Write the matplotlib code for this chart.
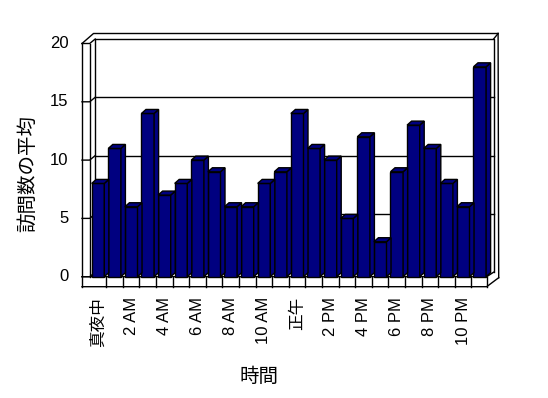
import matplotlib
matplotlib.use('Agg')
from matplotlib import pyplot as plt
from matplotlib.patches import Polygon
import numpy as np

plt.rcParams['font.family'] = ['Liberation Sans', 'Noto Sans CJK JP']

# data
hours = np.arange(24)
visits = [8, 11, 6, 14, 7, 8, 10, 9, 6, 6, 8, 9,
          14, 11, 10, 5, 12, 3, 9, 13, 11, 8, 6, 18]
tick_pos = np.arange(0, 24, 2)
tick_labels = ['真夜中', '2 AM', '4 AM', '6 AM', '8 AM', '10 AM',
               '正午', '2 PM', '4 PM', '6 PM', '8 PM', '10 PM']
y_ticks = [0, 5, 10, 15, 20]

W, H = 548, 398
fig = plt.figure(figsize=(W / 100, H / 100), dpi=100)
fig.patch.set_facecolor('white')

# front plane of the 3d box, in pixels
left_px, right_px = 89.7, 488.1
top_px, bot_px = 43.5, 276.7
ax = fig.add_axes([left_px / W, 1 - bot_px / H,
                   (right_px - left_px) / W, (bot_px - top_px) / H])
ax.set_xlim(-0.5, 23.5)
ax.set_ylim(0, 20)
ax.axis('off')

sx = 24 / (right_px - left_px)   # data units per pixel
sy = 20 / (bot_px - top_px)


def off(x, y, dxp, dyp):
    # shift a data point by a pixel offset (dyp positive = up)
    return x + dxp * sx, y + dyp * sy


def line(pts, lw=1.0, z=1):
    xs, ys = zip(*pts)
    ax.plot(xs, ys, color='black', lw=lw, clip_on=False,
            solid_capstyle='projecting', zorder=z)


x0, x1 = -0.5, 23.5
wall = (5.5, 4.5)      # back wall offset
outer = (11.5, 10.0)   # outer box offset
floor_h = 10.0         # floor thickness in px
xo = x0 - 7.7 * sx     # outer edge of left wall
xf = x1 - 1.4 * sx     # right end of floor front
ybot = -floor_h * sy

# back wall
bl = off(x0, 0, *wall)
tl = off(x0, 20, *wall)
tr = off(x1, 20, *wall)
br = off(x1, 0, *wall)
line([bl, tl, tr, br])
for v in y_ticks[1:-1]:
    line([off(x0, v, *wall), off(x1, v, *wall)])

# left wall
line([(x0, 0), (x0, 20)])
for v in y_ticks:
    line([(xo, v), (x0, v), off(x0, v, *wall)])
otr = off(x1, 20, outer[0] - 1.5, outer[1])
line([(xo, 20), off(xo, 20, *outer), otr])
line([(xo, 20), (xo, ybot)])

# right side and top right corner
line([tr, otr])
line([otr, off(xf, ybot, outer[0] + 0.5, floor_h - 1.0)])

# floor
line([(xo, 0), (xf, 0), off(x1, 0, *wall)])
line([(xo, ybot), (xf, ybot), off(xf, ybot, outer[0] + 0.5, floor_h - 1.0)])
for k in range(23):
    line([(k + 0.5, 0), (k + 0.5, ybot)])
line([(xf, 0), (xf, ybot)])

# bars
bw = 0.76
depth = (4.5, 4.0)
bars = ax.bar(hours, visits, width=bw, color='#000080',
              edgecolor='black', linewidth=1.0, zorder=3, clip_on=False)
for h, v in zip(hours, visits):
    xl, xr = h - bw / 2, h + bw / 2
    top = [(xl, v), (xr, v), off(xr, v, *depth), off(xl, v, *depth)]
    side = [(xr, 0), (xr, v), off(xr, v, *depth), off(xr, 0, *depth)]
    for pts in (side, top):
        ax.add_patch(Polygon(pts, closed=True, facecolor='#000080',
                             edgecolor='black', lw=1.0, zorder=3,
                             clip_on=False))

# tick labels
for v in y_ticks:
    ax.text(x0 - 21.4 * sx, v, str(v), ha='right', va='center', fontsize=12)
for p, lab in zip(tick_pos, tick_labels):
    ax.text(p, -20.3 * sy, lab, ha='center', va='top', rotation=90,
            fontsize=12)

fig.text(28 / W, 1 - 174 / H, '訪問数の平均', rotation=90,
         ha='center', va='center', fontsize=14)
fig.text(259 / W, 1 - 376.7 / H, '時間', ha='center', va='center',
         fontsize=14)

fig.savefig('out.png', dpi=100)
